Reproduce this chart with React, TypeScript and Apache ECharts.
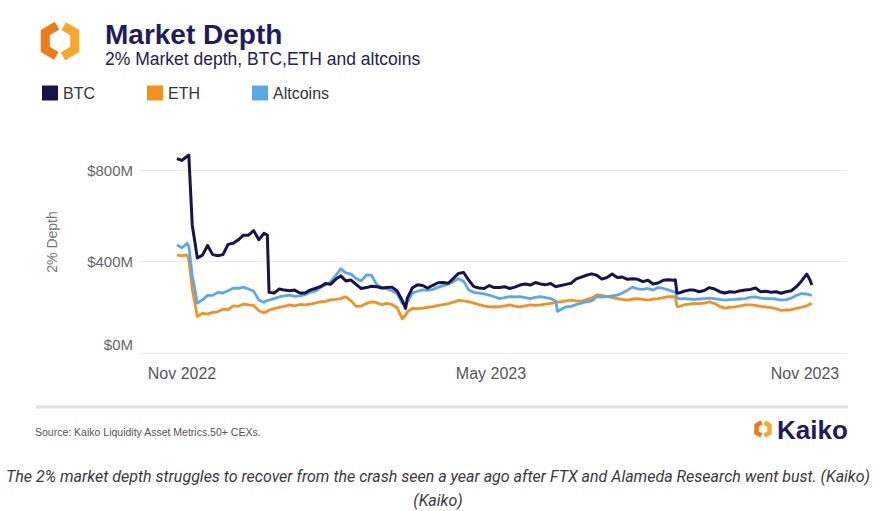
import React, { useEffect, useRef } from 'react';
import * as echarts from 'echarts';

const dates = [
  '2022-10-29','2022-11-01','2022-11-04','2022-11-05','2022-11-07','2022-11-10','2022-11-13','2022-11-16','2022-11-19','2022-11-22',
  '2022-11-25','2022-11-28','2022-12-01','2022-12-04','2022-12-07','2022-12-10','2022-12-13','2022-12-16','2022-12-19','2022-12-21',
  '2022-12-22','2022-12-25','2022-12-28','2022-12-31','2023-01-03','2023-01-06','2023-01-09','2023-01-12','2023-01-15','2023-01-18',
  '2023-01-21','2023-01-24','2023-01-27','2023-01-30','2023-02-02','2023-02-05','2023-02-08','2023-02-11','2023-02-14','2023-02-17',
  '2023-02-20','2023-02-23','2023-02-26','2023-03-01','2023-03-04','2023-03-07','2023-03-10','2023-03-12','2023-03-13','2023-03-16',
  '2023-03-19','2023-03-22','2023-03-25','2023-03-28','2023-03-31','2023-04-03','2023-04-06','2023-04-09','2023-04-12','2023-04-15',
  '2023-04-18','2023-04-21','2023-04-24','2023-04-27','2023-04-30','2023-05-03','2023-05-06','2023-05-09','2023-05-12','2023-05-15',
  '2023-05-18','2023-05-21','2023-05-24','2023-05-27','2023-05-30','2023-06-02','2023-06-05','2023-06-08','2023-06-09','2023-06-11',
  '2023-06-14','2023-06-17','2023-06-20','2023-06-23','2023-06-26','2023-06-29','2023-07-02','2023-07-05','2023-07-08','2023-07-11',
  '2023-07-14','2023-07-17','2023-07-20','2023-07-23','2023-07-26','2023-07-29','2023-08-01','2023-08-04','2023-08-07','2023-08-10',
  '2023-08-13','2023-08-16','2023-08-17','2023-08-18','2023-08-19','2023-08-22','2023-08-25','2023-08-28','2023-08-31','2023-09-03',
  '2023-09-06','2023-09-09','2023-09-12','2023-09-15','2023-09-18','2023-09-21','2023-09-24','2023-09-27','2023-09-30','2023-10-03',
  '2023-10-06','2023-10-09','2023-10-12','2023-10-15','2023-10-18','2023-10-21','2023-10-24','2023-10-27','2023-10-30','2023-11-02',
  '2023-11-04','2023-11-05',
];

// 2% depth, $M
const btc = [
  850,842,860,865,560,415,428,470,430,425,
  430,475,480,495,515,515,535,495,523,515,
  265,262,280,275,272,275,262,262,275,282,
  290,304,300,322,337,315,319,300,282,286,
  292,290,284,286,288,272,230,195,240,285,
  298,295,284,296,307,308,305,326,348,352,
  318,290,284,282,295,286,286,290,282,288,
  297,302,297,308,302,298,304,290,292,295,
  300,305,324,332,340,346,340,323,330,345,
  330,332,322,325,322,312,318,302,306,318,
  320,318,320,262,262,270,275,275,268,273,
  286,280,268,262,268,266,272,275,278,284,
  268,270,266,268,261,268,272,290,315,345,
  318,297,
];

const eth = [
  428,426,428,410,280,160,174,170,178,180,
  192,190,206,204,214,210,208,185,176,182,
  188,194,200,204,210,206,212,210,214,218,
  224,226,232,234,238,246,228,204,205,216,
  224,220,211,217,212,198,150,165,180,195,
  194,196,200,203,208,212,216,222,230,228,
  224,218,211,206,202,203,202,206,210,205,
  202,206,210,208,210,214,217,220,222,224,
  228,231,228,226,234,240,254,252,246,242,
  238,234,231,236,238,234,231,236,238,242,
  246,246,245,204,203,210,214,217,216,218,
  224,216,204,196,200,202,206,210,210,208,
  204,202,198,194,186,188,190,195,200,206,
  214,216,
];

const altcoins = [
  472,460,480,466,340,218,232,252,252,265,
  262,272,283,283,288,280,270,232,222,230,
  231,238,245,250,253,248,250,255,265,270,
  285,298,311,338,368,350,345,326,315,341,
  340,300,285,280,272,260,217,215,222,262,
  270,276,274,278,287,294,302,312,325,314,
  275,265,262,258,253,246,238,242,246,245,
  246,242,238,243,246,242,238,226,182,190,
  202,204,212,218,224,228,246,244,246,250,
  253,262,275,288,280,278,282,275,286,282,
  276,268,266,240,238,238,236,234,236,238,
  240,238,234,231,233,234,236,238,244,245,
  240,238,238,236,231,233,240,252,260,258,
  254,252,
];

const tickDates = ['2022-11-01', '2023-05-01', '2023-11-01'];
const tickLabels = ['Nov 2022', 'May 2023', 'Nov 2023'];

const BASE = Date.UTC(2022, 10, 1);
const dayOf = (s: string) => {
  const [y, m, d] = s.split('-').map(Number);
  return (Date.UTC(y, m - 1, d) - BASE) / 86400000;
};

const FONT = '"Liberation Sans", Arial, sans-serif';

function logo(cx: number, cy: number, r: number, w: number) {
  const v = [-90, -30, 30, 90, 150, 210].map((a) => {
    const t = (a * Math.PI) / 180;
    return [cx + r * Math.cos(t), cy + r * Math.sin(t)];
  });
  const lerp = (p: number[], q: number[], t: number) => [p[0] + (q[0] - p[0]) * t, p[1] + (q[1] - p[1]) * t];
  const left = [lerp(v[0], v[5], 0.2), v[5], v[4], lerp(v[4], v[3], 0.75)];
  const right = [lerp(v[0], v[1], 0.25), v[1], v[2], lerp(v[2], v[3], 0.8)];
  return [
    { type: 'polyline', shape: { points: left }, style: { stroke: '#EE7A1B', lineWidth: w, fill: null, lineJoin: 'miter' } },
    { type: 'polyline', shape: { points: right }, style: { stroke: '#F7A82A', lineWidth: w, fill: null, lineJoin: 'miter' } },
  ];
}

export default function App() {
  const ref = useRef<HTMLDivElement>(null);
  useEffect(() => {
    const chart = echarts.init(ref.current!, null, { renderer: 'svg' });
    const tickDays = tickDates.map(dayOf);
    const mk = (vals: number[]) => dates.map((d, i) => [dayOf(d), vals[i]]);
    const line = (name: string, vals: number[], color: string, width: number, z: number) => ({
      name,
      type: 'line',
      data: mk(vals),
      showSymbol: false,
      clip: false,
      color,
      z,
      lineStyle: { color, width, join: 'round' },
    });
    chart.setOption({
      animation: false,
      backgroundColor: '#ffffff',
      textStyle: { fontFamily: FONT },
      grid: { left: 140, right: 44, top: 170, bottom: 158 },
      legend: {
        left: 37,
        top: 80,
        icon: 'rect',
        itemWidth: 16,
        itemHeight: 15,
        itemGap: 52,
        data: ['BTC', 'ETH', 'Altcoins'],
        textStyle: { fontSize: 16, color: '#333', fontFamily: FONT },
      },
      xAxis: {
        type: 'value',
        min: -24.6,
        max: 389.6,
        axisLine: { show: false },
        axisTick: { show: false },
        splitLine: { show: false },
        axisLabel: {
          customValues: tickDays,
          formatter: (v: number) => {
            const i = tickDays.findIndex((t) => Math.abs(t - v) < 0.5);
            return i >= 0 ? tickLabels[i] : '';
          },
          fontSize: 16,
          color: '#555',
          margin: 12,
        },
      },
      yAxis: {
        type: 'value',
        min: 0,
        max: 800,
        interval: 400,
        axisLine: { show: false },
        axisTick: { show: false },
        splitLine: { lineStyle: { color: '#ebebeb', width: 1 } },
        axisLabel: {
          formatter: (v: number) => (v === 0 ? '{z|$0M}' : `$${v}M`),
          rich: { z: { fontSize: 15, color: '#666', padding: [0, 0, 18, 0], fontFamily: FONT } },
          fontSize: 15,
          color: '#666',
          margin: 7,
        },
      },
      series: [
        line('ETH', eth, '#F4901E', 2.8, 2),
        line('Altcoins', altcoins, '#5AA8E8', 2.8, 3),
        line('BTC', btc, '#16144A', 3, 4),
      ],
      graphic: [
        ...logo(60, 41, 17, 9),
        { type: 'text', x: 105, y: 34, style: { text: 'Market Depth', fontSize: 28, fontWeight: 'bold', fontFamily: FONT, fill: '#1F1B5C', verticalAlign: 'middle' } },
        { type: 'text', x: 105, y: 59, style: { text: '2% Market depth, BTC,ETH and altcoins', fontSize: 17.5, fontFamily: FONT, fill: '#24224F', verticalAlign: 'middle' } },
        { type: 'text', x: 52, y: 242, rotation: Math.PI / 2, style: { text: '2% Depth', fontSize: 14, fontFamily: FONT, fill: '#777', align: 'center', verticalAlign: 'middle' } },
        { type: 'line', shape: { x1: 36, y1: 407, x2: 848, y2: 407 }, style: { stroke: '#e0e0e0', lineWidth: 3 } },
        { type: 'text', x: 35, y: 432, style: { text: 'Source: Kaiko Liquidity Asset Metrics.50+ CEXs.', fontSize: 10.5, fontFamily: FONT, fill: '#555', verticalAlign: 'middle' } },
        ...logo(763, 429, 7.5, 4.5),
        { type: 'text', x: 777, y: 430, style: { text: 'Kaiko', fontSize: 26, fontWeight: 'bold', fontFamily: FONT, fill: '#1F1B5C', verticalAlign: 'middle' } },
        { type: 'text', x: 438, y: 476, style: { text: 'The 2% market depth struggles to recover from the crash seen a year ago after FTX and Alameda Research went bust. (Kaiko)', fontSize: 16, fontStyle: 'italic', fontFamily: 'Roboto, sans-serif', fill: '#3a3a3a', align: 'center', verticalAlign: 'middle' } },
        { type: 'text', x: 438, y: 500, style: { text: '(Kaiko)', fontSize: 16, fontStyle: 'italic', fontFamily: 'Roboto, sans-serif', fill: '#3a3a3a', align: 'center', verticalAlign: 'middle' } },
      ],
    });
    return () => chart.dispose();
  }, []);
  return <div ref={ref} style={{ position: 'absolute', left: 0, top: 0, width: 891, height: 511, background: '#fff' }} />;
}
